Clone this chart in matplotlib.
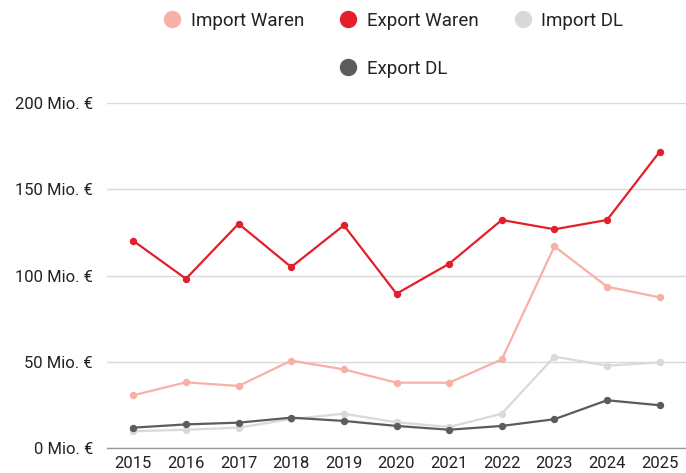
import matplotlib
matplotlib.use("Agg")
import matplotlib.pyplot as plt
from matplotlib.lines import Line2D

plt.rcParams['font.family'] = ['Roboto', 'DejaVu Sans']

years = [2015, 2016, 2017, 2018, 2019, 2020, 2021, 2022, 2023, 2024, 2025]
import_waren = [30.6, 38.1, 36.0, 50.7, 45.6, 37.9, 37.9, 51.4, 117.0, 93.6, 87.4]
export_waren = [120.2, 98.2, 130.1, 105.0, 129.2, 89.5, 106.9, 132.3, 126.9, 132.3, 171.9]
import_dl = [9.7, 10.6, 11.8, 16.8, 19.9, 14.9, 12.2, 19.9, 53.0, 47.8, 49.7]
export_dl = [11.8, 13.7, 14.7, 17.6, 15.7, 12.8, 10.6, 12.8, 16.7, 27.7, 24.8]
series_names = ["Import Waren", "Export Waren", "Import DL", "Export DL"]
colors = ["#f8b0a6", "#e3202a", "#d9d9d9", "#5c5b5d"]
yticks = [0, 50, 100, 150, 200]
ytick_labels = [f"{v} Mio. €" for v in yticks]

fig = plt.figure(figsize=(6.86, 4.73), dpi=100)
ax = fig.add_axes([107/686, 1-448/473, 1-107/686, (448-103.3)/473])

data = [import_waren, export_waren, import_dl, export_dl]
zorders = [3, 5, 2, 4]
for vals, c, z in zip(data, colors, zorders):
    ax.plot(years, vals, color=c, lw=1.6, marker='o', markersize=4.3, zorder=z,
            solid_joinstyle='round')

ax.set_xlim(2014.5, 2025.5)
ax.set_ylim(0, 200)
ax.set_yticks(yticks)
ax.set_yticklabels(ytick_labels)
ax.set_xticks(years)
ax.set_xticklabels([str(y) for y in years])
ax.grid(axis='y', color='#d9d9d9', lw=1.0, zorder=0)
ax.set_axisbelow(True)
for s in ['top', 'right', 'left']:
    ax.spines[s].set_visible(False)
ax.spines['bottom'].set_color('#999999')
ax.spines['bottom'].set_linewidth(1.0)
ax.tick_params(axis='both', length=0, labelsize=12, colors='#222222')
ax.tick_params(axis='y', pad=10)
ax.tick_params(axis='x', pad=6)

handles = [Line2D([], [], linestyle='none', marker='o', markersize=11.5,
                  markerfacecolor=c, markeredgecolor=c) for c in colors]
leg1 = fig.legend(handles[:3], series_names[:3], loc='center', ncol=3,
                  bbox_to_anchor=(0.5736, 1-21/473), frameon=False, fontsize=13.5,
                  handlelength=0.9, handletextpad=0.55, columnspacing=1.9,
                  labelcolor='#222222')
leg2 = fig.legend(handles[3:], series_names[3:], loc='center', ncol=1,
                  bbox_to_anchor=(0.574, 1-69/473), frameon=False, fontsize=13.5,
                  handlelength=0.9, handletextpad=0.55, labelcolor='#222222')

fig.savefig("out.png", dpi=100)
